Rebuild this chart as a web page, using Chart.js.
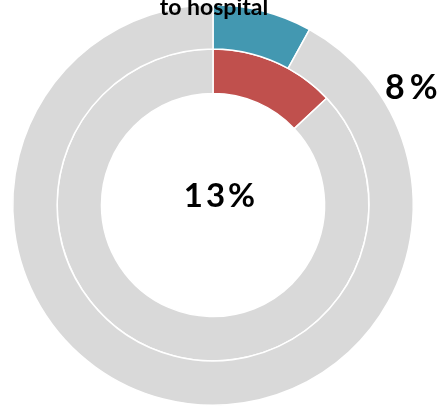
<!DOCTYPE html>
<html><head><meta charset="utf-8">
<script src="https://cdn.jsdelivr.net/npm/chart.js@4"></script>
<style>html,body{margin:0;padding:0;background:#fff}#wrap{width:446px;height:411px}</style>
</head><body><div id="wrap"><canvas id="c" width="446" height="411"></canvas></div>
<script>
const categories = ['to hospital', 'other'];
const outerValues = [8, 92];
const innerValues = [13, 87];
const titleText = 'to hospital';
const outerLabel = '8%';
const innerLabel = '13%';

const textPlugin = {
  id: 'texts',
  afterDraw(chart) {
    const ctx = chart.ctx;
    ctx.save();
    ctx.fillStyle = '#000';
    ctx.textBaseline = 'alphabetic';
    ctx.textAlign = 'center';
    ctx.font = 'bold 23px Lato, sans-serif';
    ctx.fillText(titleText, 214, 15);
    ctx.font = 'bold 34px Lato, sans-serif';
    ctx.letterSpacing = '5px';
    ctx.textAlign = 'left';
    ctx.fillText(outerLabel, 385, 99);
    ctx.letterSpacing = '3px';
    ctx.font = 'bold 33px Lato, sans-serif';
    ctx.textAlign = 'center';
    ctx.fillText(innerLabel, 221, 207);
    ctx.restore();
  }
};

new Chart(document.getElementById('c'), {
  type: 'doughnut',
  data: {
    labels: categories,
    datasets: [
      { data: outerValues, backgroundColor: ['#4398B1', '#D9D9D9'], borderColor: '#ffffff', borderWidth: 1.5 },
      { data: innerValues, backgroundColor: ['#C0504D', '#D9D9D9'], borderColor: '#ffffff', borderWidth: 1.5 }
    ]
  },
  options: {
    responsive: false,
    animation: false,
    cutout: '55.7%',
    layout: { padding: { left: 12, right: 32, top: 4, bottom: 5 } },
    plugins: { legend: { display: false }, tooltip: { enabled: false }, title: { display: false } }
  },
  plugins: [textPlugin]
});
</script>
</body></html>
